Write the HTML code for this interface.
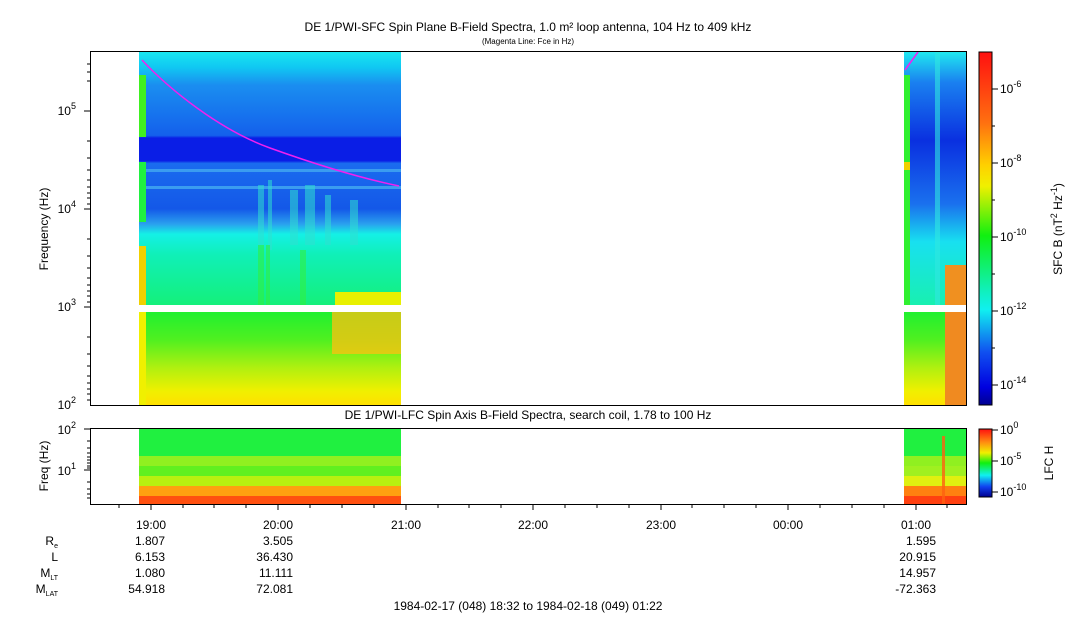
<!DOCTYPE html>
<html><head><style>
body{margin:0;background:#fff;}
svg{display:block;font-family:"Liberation Sans",sans-serif;}
</style></head><body>
<svg width="1083" height="620" viewBox="0 0 1083 620" xmlns="http://www.w3.org/2000/svg">
<defs>
<linearGradient id="sfc1" x1="0" y1="0" x2="0" y2="1">
<stop offset="0" stop-color="#19e6f0"/>
<stop offset="0.06" stop-color="#10c8f2"/>
<stop offset="0.13" stop-color="#1a8ef0"/>
<stop offset="0.33" stop-color="#1460ec"/>
<stop offset="0.34" stop-color="#0a1ee6"/>
<stop offset="0.43" stop-color="#0a1ee6"/>
<stop offset="0.44" stop-color="#1a6cef"/>
<stop offset="0.62" stop-color="#1458e8"/>
<stop offset="0.68" stop-color="#2aa0ee"/>
<stop offset="0.72" stop-color="#14f0e6"/>
<stop offset="0.80" stop-color="#10f0b8"/>
<stop offset="1" stop-color="#14f07a"/>
</linearGradient>
<linearGradient id="sfc2" x1="0" y1="0" x2="0" y2="1">
<stop offset="0" stop-color="#20f030"/>
<stop offset="0.3" stop-color="#50f020"/>
<stop offset="0.6" stop-color="#b0f010"/>
<stop offset="0.85" stop-color="#f0f000"/>
<stop offset="1" stop-color="#ffe000"/>
</linearGradient>
<linearGradient id="sfcR" x1="0" y1="0" x2="0" y2="1">
<stop offset="0" stop-color="#20e8f0"/>
<stop offset="0.12" stop-color="#1a80f0"/>
<stop offset="0.35" stop-color="#0a30e0"/>
<stop offset="0.6" stop-color="#1a70ee"/>
<stop offset="0.75" stop-color="#18e0f0"/>
<stop offset="1" stop-color="#18f0b0"/>
</linearGradient>
<linearGradient id="cb" x1="0" y1="0" x2="0" y2="1">
<stop offset="0" stop-color="#ff1010"/>
<stop offset="0.2" stop-color="#ff7010"/>
<stop offset="0.32" stop-color="#ffd000"/>
<stop offset="0.38" stop-color="#f0f000"/>
<stop offset="0.52" stop-color="#10f010"/>
<stop offset="0.68" stop-color="#10f0c0"/>
<stop offset="0.73" stop-color="#10f0f0"/>
<stop offset="0.85" stop-color="#1050f0"/>
<stop offset="0.95" stop-color="#0000e0"/>
<stop offset="1" stop-color="#000090"/>
</linearGradient>
<linearGradient id="cb2" x1="0" y1="0" x2="0" y2="1">
<stop offset="0" stop-color="#ff1010"/>
<stop offset="0.2" stop-color="#ff9010"/>
<stop offset="0.35" stop-color="#f0f000"/>
<stop offset="0.5" stop-color="#10f010"/>
<stop offset="0.68" stop-color="#10f0f0"/>
<stop offset="0.85" stop-color="#1040f0"/>
<stop offset="1" stop-color="#000090"/>
</linearGradient>
</defs>
<text x="528" y="31" font-size="12" text-anchor="middle">DE 1/PWI-SFC  Spin Plane B-Field Spectra, 1.0 m² loop antenna, 104 Hz to 409 kHz</text>
<text x="528" y="44" font-size="8" text-anchor="middle">(Magenta Line: Fce in Hz)</text>

<!-- SFC block 1 -->
<rect x="139" y="52" width="262" height="253" fill="url(#sfc1)"/>
<rect x="139" y="169" width="262" height="3" fill="#3a9cf0"/>
<rect x="139" y="186" width="262" height="3" fill="#3a9cf0"/>
<g fill="#30e0d0" opacity="0.55">
<rect x="258" y="185" width="6" height="60"/><rect x="268" y="180" width="4" height="70"/>
<rect x="290" y="190" width="8" height="55"/><rect x="305" y="185" width="10" height="60"/>
<rect x="325" y="195" width="6" height="50"/><rect x="350" y="200" width="8" height="45"/>
</g>
<g fill="#30f040" opacity="0.6">
<rect x="258" y="245" width="6" height="60"/><rect x="266" y="245" width="4" height="60"/>
<rect x="300" y="250" width="6" height="55"/>
</g>
<rect x="335" y="292" width="66" height="13" fill="#e8f000"/>
<rect x="139" y="312" width="262" height="93" fill="url(#sfc2)"/>
<rect x="332" y="312" width="69" height="42" fill="#ffc010" opacity="0.75"/>
<rect x="139" y="75" width="7" height="62" fill="#40f020"/>
<rect x="139" y="162" width="7" height="60" fill="#20f040"/>
<rect x="139" y="246" width="7" height="59" fill="#f0d000"/>
<rect x="139" y="312" width="7" height="93" fill="#f0f000"/>
<path d="M142,60 C170,90 220,130 270,148 C320,166 360,178 399,186" stroke="#f020f0" stroke-width="1.5" fill="none"/>

<!-- SFC block 2 -->
<rect x="904" y="52" width="62" height="253" fill="url(#sfcR)"/>
<rect x="935" y="52" width="5" height="253" fill="#30e8e0" opacity="0.6"/>
<rect x="904" y="75" width="6" height="230" fill="#30f030"/>
<rect x="904" y="162" width="6" height="8" fill="#f0d000"/>
<rect x="945" y="265" width="21" height="40" fill="#f09020"/>
<rect x="904" y="312" width="62" height="93" fill="url(#sfc2)"/>
<rect x="945" y="312" width="21" height="93" fill="#f08a20"/>
<line x1="905" y1="70" x2="918" y2="52" stroke="#f020f0" stroke-width="1.5"/>

<!-- axes SFC -->
<rect x="90.5" y="51.5" width="876" height="354" fill="none" stroke="#000"/>
<g font-size="12" text-anchor="end">
<text x="76" y="115">10<tspan dy="-6" font-size="9">5</tspan></text>
<text x="76" y="213">10<tspan dy="-6" font-size="9">4</tspan></text>
<text x="76" y="311">10<tspan dy="-6" font-size="9">3</tspan></text>
<text x="76" y="409">10<tspan dy="-6" font-size="9">2</tspan></text>
</g>
<g stroke="#000">
<line x1="84" y1="111" x2="90" y2="111"/><line x1="84" y1="209" x2="90" y2="209"/><line x1="84" y1="307" x2="90" y2="307"/>
<path d="M87,64h3M87,72h3M87,81h3M87,141h3M87,158h3M87,170h3M87,180h3M87,187h3M87,193h3M87,198h3M87,204h3M87,239h3M87,256h3M87,268h3M87,278h3M87,285h3M87,291h3M87,296h3M87,302h3M87,337h3M87,354h3M87,366h3M87,376h3M87,383h3M87,389h3M87,394h3M87,400h3"/>
</g>
<text transform="translate(48,229) rotate(-90)" font-size="12" text-anchor="middle">Frequency (Hz)</text>

<!-- colorbar SFC -->
<rect x="979" y="52" width="13" height="353" fill="url(#cb)" stroke="#000" stroke-width="1"/>
<g stroke="#000"><path d="M992,89h6M992,126h3M992,163h6M992,200h3M992,237h6M992,274h3M992,311h6M992,348h3M992,385h6"/></g>
<g font-size="12">
<text x="1000" y="93">10<tspan dy="-6" font-size="9">-6</tspan></text>
<text x="1000" y="167">10<tspan dy="-6" font-size="9">-8</tspan></text>
<text x="1000" y="241">10<tspan dy="-6" font-size="9">-10</tspan></text>
<text x="1000" y="315">10<tspan dy="-6" font-size="9">-12</tspan></text>
<text x="1000" y="389">10<tspan dy="-6" font-size="9">-14</tspan></text>
</g>
<text transform="translate(1062,229) rotate(-90)" font-size="12" text-anchor="middle">SFC B (nT<tspan dy="-5" font-size="9">2</tspan><tspan dy="5"> Hz</tspan><tspan dy="-5" font-size="9">-1</tspan><tspan dy="5">)</tspan></text>

<!-- LFC -->
<text x="528" y="419" font-size="12" text-anchor="middle">DE 1/PWI-LFC  Spin Axis B-Field Spectra, search coil, 1.78 to 100 Hz</text>
<g>
<rect x="139" y="429" width="262" height="27" fill="#20f040"/>
<rect x="139" y="456" width="262" height="10" fill="#90f020"/>
<rect x="139" y="466" width="262" height="10" fill="#60f020"/>
<rect x="139" y="476" width="262" height="10" fill="#b8f010"/>
<rect x="139" y="486" width="262" height="10" fill="#ffa010"/>
<rect x="139" y="496" width="262" height="8" fill="#ff5010"/>
<rect x="904" y="429" width="62" height="27" fill="#20f040"/>
<rect x="904" y="456" width="62" height="10" fill="#90f020"/>
<rect x="904" y="466" width="62" height="10" fill="#a0f020"/>
<rect x="904" y="476" width="62" height="10" fill="#e0f010"/>
<rect x="904" y="486" width="62" height="10" fill="#ff8010"/>
<rect x="904" y="496" width="62" height="8" fill="#ff4010"/>
<rect x="942" y="436" width="3" height="68" fill="#ff6010" opacity="0.8"/>
</g>
<rect x="90.5" y="428.5" width="876" height="76" fill="none" stroke="#000"/>
<g font-size="12" text-anchor="end">
<text x="76" y="434">10<tspan dy="-6" font-size="9">2</tspan></text>
<text x="76" y="475">10<tspan dy="-6" font-size="9">1</tspan></text>
</g>
<g stroke="#000"><line x1="84" y1="429" x2="90" y2="429"/><line x1="84" y1="470" x2="90" y2="470"/>
<path d="M87,441h3M87,448h3M87,453h3M87,457h3M87,460h3M87,463h3M87,466h3M87,468h3M87,482h3M87,489h3M87,494h3M87,498h3"/></g>
<text transform="translate(48,466) rotate(-90)" font-size="12" text-anchor="middle">Freq (Hz)</text>
<rect x="979" y="429" width="13" height="68" fill="url(#cb2)" stroke="#000"/>
<g stroke="#000"><path d="M992,430h6M992,461h6M992,492h6"/></g>
<g font-size="12">
<text x="1000" y="434">10<tspan dy="-6" font-size="9">0</tspan></text>
<text x="1000" y="465">10<tspan dy="-6" font-size="9">-5</tspan></text>
<text x="1000" y="496">10<tspan dy="-6" font-size="9">-10</tspan></text>
</g>
<text transform="translate(1053,463) rotate(-90)" font-size="12" text-anchor="middle">LFC H</text>

<!-- time ticks -->
<g stroke="#000">
<path d="M119,504v4M151,504v6M183,504v4M214,504v4M246,504v4M278,504v6M310,504v4M342,504v4M374,504v4M406,504v6M438,504v4M469,504v4M501,504v4M533,504v6M565,504v4M597,504v4M629,504v4M661,504v6M692,504v4M724,504v4M756,504v4M788,504v6M820,504v4M852,504v4M884,504v4M916,504v6M947,504v4"/>
</g>
<g font-size="12" text-anchor="middle">
<text x="151" y="529">19:00</text><text x="278" y="529">20:00</text><text x="406" y="529">21:00</text>
<text x="533" y="529">22:00</text><text x="661" y="529">23:00</text><text x="788" y="529">00:00</text><text x="916" y="529">01:00</text>
</g>
<g font-size="12" text-anchor="end">
<text x="58" y="545">R<tspan font-size="7" dy="3">e</tspan></text>
<text x="58" y="561">L</text>
<text x="58" y="577">M<tspan font-size="7" dy="3">LT</tspan></text>
<text x="58" y="593">M<tspan font-size="7" dy="3">LAT</tspan></text>
<text x="165" y="545">1.807</text><text x="165" y="561">6.153</text><text x="165" y="577">1.080</text><text x="165" y="593">54.918</text>
<text x="293" y="545">3.505</text><text x="293" y="561">36.430</text><text x="293" y="577">11.111</text><text x="293" y="593">72.081</text>
<text x="936" y="545">1.595</text><text x="936" y="561">20.915</text><text x="936" y="577">14.957</text><text x="936" y="593">-72.363</text>
</g>
<text x="528" y="610" font-size="12" text-anchor="middle">1984-02-17 (048) 18:32 to 1984-02-18 (049) 01:22</text>
</svg>
</body></html>
